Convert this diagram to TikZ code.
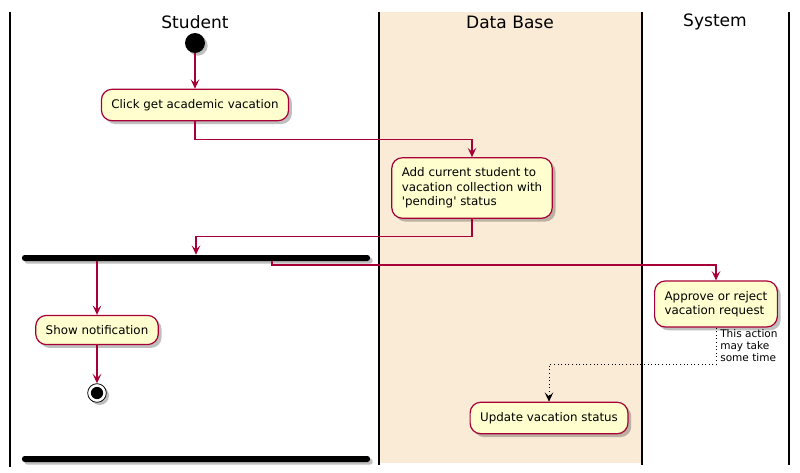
\documentclass[tikz,border=0pt]{standalone}
\usepackage{fontspec}
\setmainfont{DejaVu Sans}
\usepackage{xcolor}
\usetikzlibrary{positioning,calc,shadows,arrows.meta}

\definecolor{umlred}{HTML}{A80036}
\definecolor{umlfill}{HTML}{FEFECE}
\definecolor{lanefill}{HTML}{FAEBD7}

\tikzset{
    action/.style={draw=umlred,fill=umlfill,line width=0.9pt,rounded corners=8pt,
        inner xsep=7.5pt,inner ysep=7.5pt,align=left,font=\fontsize{8.9}{10.9}\selectfont,
        drop shadow={shadow xshift=2.5pt,shadow yshift=-2.5pt,fill=black,opacity=0.25}},
    flow/.style={draw=umlred,line width=0.8pt,-{Stealth[length=7pt,width=6.5pt,inset=3pt]}},
    wait/.style={draw=black,line width=0.7pt,dotted,-{Stealth[length=7pt,width=6.5pt,inset=3pt]}},
    bar/.style={fill=black,rounded corners=2pt,minimum width=261pt,minimum height=4.5pt,inner sep=0pt,
        drop shadow={shadow xshift=2pt,shadow yshift=-2pt,fill=black,opacity=0.25}},
    lane/.style={line width=1.3pt},
    title/.style={font=\fontsize{12.8}{15}\selectfont}
}

\begin{document}
\begin{tikzpicture}[x=0.75pt,y=-0.75pt]
    \useasboundingbox (0,0) rectangle (800,472);

    % lanes
    \fill[lanefill] (380,12) rectangle (641,463);
    \draw[lane] (10,12) -- (10,467);
    \draw[lane] (379,12) -- (379,465);
    \draw[lane] (642,12) -- (642,465);
    \draw[lane] (789,12) -- (789,465);
    \node[title] (tstud) at (195,22) {Student};
    \node[title] (tdb) at (510,22) {Data Base};
    \node[title] (tsys) at (715,22) {System};

    % Student: request
    \node[circle,fill=black,minimum size=15pt,inner sep=0pt,
        drop shadow={shadow xshift=2pt,shadow yshift=-2pt,fill=black,opacity=0.25}] (start) at (195,43) {};
    \node[action] (click) at (195,105) {Click get academic vacation};
    \draw[flow] (start) -- (click);

    % Data Base: pending
    \node[action] (add) at (472,188) {Add current student to\\vacation collection with\\\textquotesingle pending\textquotesingle{} status};
    \draw[flow] (click.south) -- ++(0,18) -| (add.north);

    % fork
    \node[bar] (fork) at (196,258) {};
    \draw[flow] (add.south) -- ++(0,18) -| (fork.north);

    % Student branch
    \node[action] (notif) at (97,330) {Show notification};
    \draw[flow] (fork.south -| notif.north) -- (notif.north);
    \node[circle,draw=black,fill=white,line width=0.6pt,minimum size=14pt,inner sep=0pt,
        drop shadow={shadow xshift=2pt,shadow yshift=-2pt,fill=black,opacity=0.25}] (stop) at (97,393) {};
    \fill (stop) circle (4.6pt);
    \draw[flow] (notif) -- (stop);

    % System branch
    \coordinate (forkr) at (272,261);
    \node[action] (appr) at (716,304) {Approve or reject\\vacation request};
    \draw[flow] (forkr) -- ++(0,4) -| (appr.north);

    \node[action] (upd) at (549,418) {Update vacation status};
    \draw[wait] (appr.south) -- ++(0,37) -| (upd.north);
    \node[anchor=north west,align=left,inner sep=0pt,font=\fontsize{7.9}{9}\selectfont] (delay)
        at (720,329) {This action\\may take\\some time};

    % join
    \node[bar] (join) at (196,459) {};
\end{tikzpicture}
\end{document}
